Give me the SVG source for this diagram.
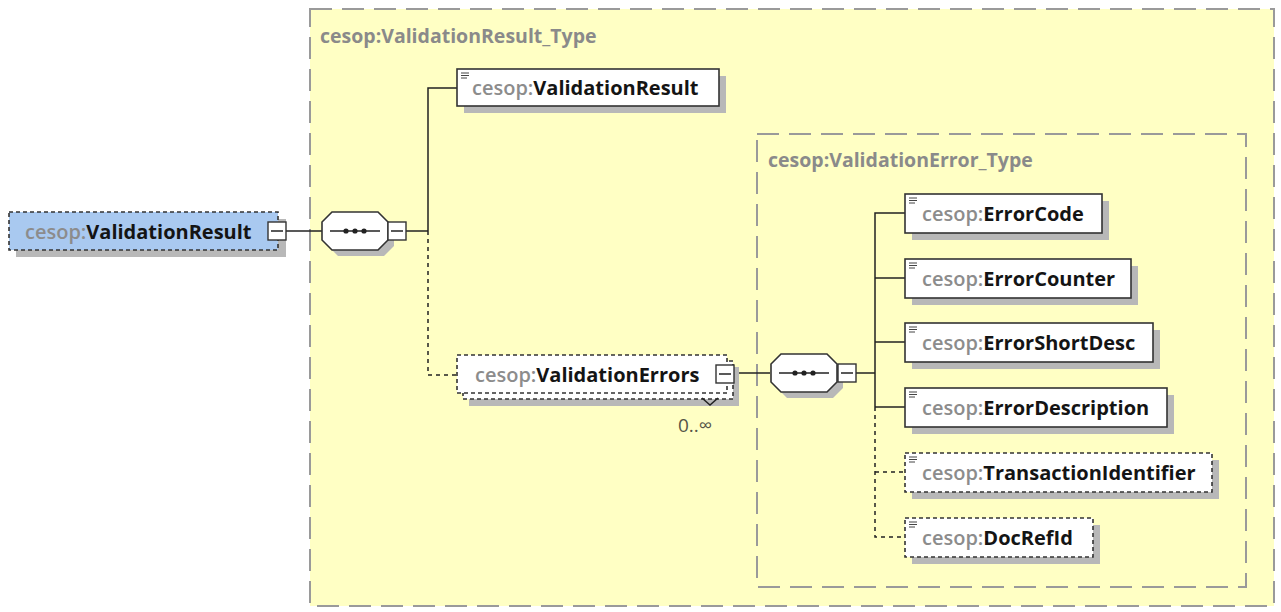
<svg xmlns="http://www.w3.org/2000/svg" width="1281" height="612" viewBox="0 0 1281 612">
<defs>
<style>
.frame{fill:#ffffc4;stroke:#9a9a9a;stroke-width:2;stroke-dasharray:22 10}
.ttl{font-family:"Open Sans","Noto Sans",sans-serif;font-size:19.5px;font-weight:bold;fill:#8a8a8a}
.lbl{font-family:"Open Sans","Noto Sans",sans-serif;font-size:20px;font-weight:bold}
.ns{fill:#8c8c8c;font-weight:600}
.nm{fill:#141414}
.shadow{fill:#b8b8b8}
.box{fill:#ffffff;stroke:#333;stroke-width:1.6}
.dbox{fill:#ffffff;stroke:#333;stroke-width:1.6;stroke-dasharray:4 3}
.mb{fill:#fff;stroke:#333;stroke-width:1.4}
.ln{stroke:#222;stroke-width:1.5;fill:none}
.dl{stroke:#222;stroke-width:1.5;fill:none;stroke-dasharray:4 4}
.ic{stroke:#444;stroke-width:1}
.mult{font-family:"Open Sans","Noto Sans",sans-serif;font-size:19px;fill:#555548}
</style>
<g id="icon"><line class="ic" x1="0" y1="0" x2="8" y2="0"/><line class="ic" x1="0" y1="2.5" x2="8" y2="2.5"/><line class="ic" x1="0" y1="5" x2="6" y2="5"/></g>
<g id="minus"><rect class="mb" x="0" y="0" width="18" height="18"/><line class="ln" x1="3" y1="9" x2="15" y2="9"/></g>
<g id="seq">
<path class="shadow" d="M16 6 H62 L72 16 V34 L62 44 H16 L6 34 V16 Z"/>
<path fill="#fff" stroke="#333" stroke-width="1.6" d="M10 0 H56 L66 10 V28 L56 38 H10 L0 28 V10 Z"/>
<line class="ln" x1="8" y1="19" x2="58" y2="19"/>
<circle cx="24" cy="19" r="2.6" fill="#222"/><circle cx="33" cy="19" r="2.6" fill="#222"/><circle cx="42" cy="19" r="2.6" fill="#222"/>
</g>
</defs>
<rect width="1281" height="612" fill="#ffffff"/>

<g id="frame-ValidationResult_Type">
<rect class="frame" x="310" y="9" width="964" height="597"/>
<text class="ttl" x="320" y="43">cesop:ValidationResult_Type</text>
</g>
<g id="frame-ValidationError_Type">
<rect class="frame" x="757" y="134" width="489" height="453"/>
<text class="ttl" x="768" y="167">cesop:ValidationError_Type</text>
</g>

<g id="connectors">
<line class="ln" x1="286" y1="231" x2="322" y2="231"/>
<line class="ln" x1="406" y1="231" x2="428" y2="231"/>
<polyline class="ln" points="428,231 428,88 457,88"/>
<polyline class="dl" points="428,231 428,375 457,375"/>
<line class="ln" x1="734" y1="373" x2="770" y2="373"/>
<line class="ln" x1="856" y1="373" x2="875" y2="373"/>
<polyline class="ln" points="875,407 875,213 905,213"/>
<line class="ln" x1="875" y1="278" x2="905" y2="278"/>
<line class="ln" x1="875" y1="342" x2="905" y2="342"/>
<line class="ln" x1="875" y1="407" x2="905" y2="407"/>
<polyline class="dl" points="875,407 875,537 905,537"/>
<line class="dl" x1="875" y1="472" x2="905" y2="472"/>
</g>

<g id="node-root">
<rect class="shadow" x="16" y="219" width="270" height="38"/>
<rect x="9" y="212" width="269" height="38" fill="#a9c9f0" stroke="#333" stroke-width="1.6" stroke-dasharray="4 3"/>
<text class="lbl" x="25" y="239"><tspan class="ns">cesop:</tspan><tspan class="nm">ValidationResult</tspan></text>
<use href="#minus" x="268" y="222"/>
</g>

<g id="node-seq1">
<use href="#seq" x="322" y="212"/>
<use href="#minus" x="388" y="222"/>
</g>

<g id="node-ValidationResult">
<rect class="shadow" x="464" y="76" width="262" height="37"/>
<rect class="box" x="457" y="69" width="262" height="37"/>
<use href="#icon" x="461" y="73"/>
<text class="lbl" x="472" y="95"><tspan class="ns">cesop:</tspan><tspan class="nm">ValidationResult</tspan></text>
</g>

<g id="node-ValidationErrors">
<rect class="shadow" x="469" y="367" width="270" height="39"/>
<rect class="dbox" x="463" y="361" width="270" height="38"/>
<rect class="dbox" x="457" y="355" width="270" height="38"/>
<text class="lbl" x="475" y="382"><tspan class="ns">cesop:</tspan><tspan class="nm">ValidationErrors</tspan></text>
<use href="#minus" x="716" y="365"/>
<polyline class="ln" points="702,398 710,405 718,398" stroke-width="1.2"/>
<text class="mult" x="678" y="432">0..∞</text>
</g>

<g id="node-seq2">
<use href="#seq" x="771" y="354"/>
<use href="#minus" x="838" y="364"/>
</g>

<g id="node-ErrorCode">
<rect class="shadow" x="912" y="201" width="197" height="39"/>
<rect class="box" x="905" y="194" width="197" height="39"/>
<use href="#icon" x="909" y="198"/>
<text class="lbl" x="922" y="221"><tspan class="ns">cesop:</tspan><tspan class="nm">ErrorCode</tspan></text>
</g>

<g id="node-ErrorCounter">
<rect class="shadow" x="912" y="266" width="226" height="39"/>
<rect class="box" x="905" y="259" width="226" height="39"/>
<use href="#icon" x="909" y="263"/>
<text class="lbl" x="922" y="286"><tspan class="ns">cesop:</tspan><tspan class="nm">ErrorCounter</tspan></text>
</g>

<g id="node-ErrorShortDesc">
<rect class="shadow" x="912" y="330" width="248" height="39"/>
<rect class="box" x="905" y="323" width="248" height="39"/>
<use href="#icon" x="909" y="327"/>
<text class="lbl" x="922" y="350"><tspan class="ns">cesop:</tspan><tspan class="nm">ErrorShortDesc</tspan></text>
</g>

<g id="node-ErrorDescription">
<rect class="shadow" x="912" y="395" width="262" height="39"/>
<rect class="box" x="905" y="388" width="262" height="39"/>
<use href="#icon" x="909" y="392"/>
<text class="lbl" x="922" y="415"><tspan class="ns">cesop:</tspan><tspan class="nm">ErrorDescription</tspan></text>
</g>

<g id="node-TransactionIdentifier">
<rect class="shadow" x="912" y="460" width="307" height="39"/>
<rect class="dbox" x="905" y="453" width="307" height="39"/>
<use href="#icon" x="909" y="457"/>
<text class="lbl" x="922" y="480"><tspan class="ns">cesop:</tspan><tspan class="nm">TransactionIdentifier</tspan></text>
</g>

<g id="node-DocRefId">
<rect class="shadow" x="912" y="525" width="188" height="39"/>
<rect class="dbox" x="905" y="518" width="188" height="39"/>
<use href="#icon" x="909" y="522"/>
<text class="lbl" x="922" y="545"><tspan class="ns">cesop:</tspan><tspan class="nm">DocRefId</tspan></text>
</g>
</svg>
